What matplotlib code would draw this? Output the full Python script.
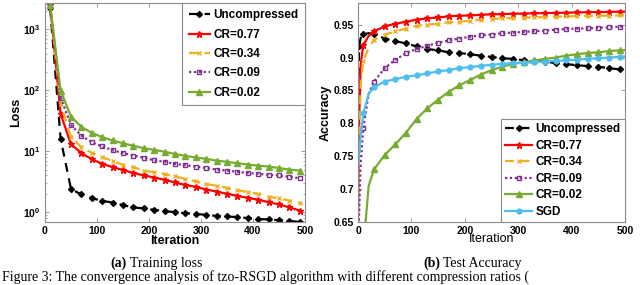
import numpy as np
import matplotlib
matplotlib.use("Agg")
import matplotlib.pyplot as plt
from matplotlib.ticker import LogLocator, FixedLocator, NullFormatter

plt.rcParams['font.family'] = ['Liberation Sans', 'DejaVu Sans']
plt.rcParams['mathtext.fontset'] = 'custom'
plt.rcParams['mathtext.rm'] = 'Liberation Sans:bold'
plt.rcParams['mathtext.bf'] = 'Liberation Sans:bold'

# ---------------- data: training loss ----------------
loss_iters = [10, 30, 50, 70, 90, 110, 130, 150, 170, 190, 210, 230, 250, 270, 290,
              310, 330, 350, 370, 390, 410, 430, 450, 470, 490]
loss_uncompressed = [2200, 16, 2.4, 1.95, 1.7, 1.53, 1.44, 1.3, 1.2, 1.15, 1.09, 1.04, 1.0,
                     0.96, 0.94, 0.9, 0.87, 0.85, 0.83, 0.8, 0.77, 0.76, 0.74, 0.72, 0.69]
loss_cr077 = [2500, 41, 13, 9.3, 7.4, 6.2, 5.5, 4.9, 4.4, 4.0, 3.7, 3.4, 3.07, 2.8, 2.6,
              2.35, 2.18, 2.0, 1.85, 1.72, 1.6, 1.46, 1.34, 1.2, 1.06]
loss_cr034 = [2500, 60, 17.4, 11.6, 9.4, 8.0, 6.9, 6.0, 5.5, 4.8, 4.5, 4.2, 3.85, 3.5, 3.2,
              2.9, 2.7, 2.5, 2.3, 2.13, 2.0, 1.8, 1.68, 1.55, 1.44]
loss_cr009 = [2500, 76, 27, 18, 14, 12, 10.4, 9.3, 8.5, 7.8, 7.1, 6.7, 6.2, 5.9, 5.6,
              5.3, 5.0, 4.8, 4.6, 4.4, 4.25, 4.1, 4.0, 3.8, 3.6]
loss_cr002 = [2500, 98, 37, 25, 20, 17, 15, 13.5, 12.3, 11.2, 10.5, 9.8, 9.0, 8.4, 7.9,
              7.5, 7.0, 6.7, 6.35, 6.05, 5.8, 5.6, 5.3, 5.0, 4.8]

# ---------------- data: test accuracy ----------------
acc_iters = [0, 2, 5, 10, 20, 30, 50, 70, 90, 110, 130, 150, 170, 190, 210, 230, 250,
             270, 290, 310, 330, 350, 370, 390, 410, 430, 450, 470, 490, 500]
acc_uncompressed = [0.80, 0.917, 0.930, 0.936, 0.937, 0.936, 0.929, 0.925, 0.9215, 0.917,
                    0.913, 0.911, 0.908, 0.907, 0.905, 0.903, 0.901, 0.899, 0.898, 0.896,
                    0.895, 0.894, 0.8915, 0.890, 0.8885, 0.887, 0.886, 0.884, 0.882, 0.881]
acc_cr077 = [0.64, 0.80, 0.89, 0.919, 0.933, 0.940, 0.9475, 0.9515, 0.9546, 0.9576, 0.9597,
             0.961, 0.9627, 0.9637, 0.964, 0.965, 0.9658, 0.966, 0.9668, 0.967, 0.9673,
             0.9677, 0.968, 0.9683, 0.9686, 0.969, 0.9692, 0.9695, 0.9698, 0.970]
acc_cr034 = [0.64, 0.76, 0.86, 0.895, 0.915, 0.927, 0.935, 0.940, 0.944, 0.9485, 0.950,
             0.9515, 0.9536, 0.9546, 0.956, 0.9576, 0.9586, 0.9597, 0.960, 0.9607, 0.9612,
             0.9617, 0.962, 0.9625, 0.963, 0.9633, 0.9636, 0.9638, 0.964, 0.9642]
acc_cr009 = [0.60, 0.66, 0.74, 0.793, 0.845, 0.8636, 0.884, 0.8966, 0.907, 0.913, 0.918,
             0.9225, 0.926, 0.929, 0.9317, 0.934, 0.935, 0.937, 0.938, 0.939, 0.940,
             0.941, 0.9424, 0.9434, 0.944, 0.9444, 0.9454, 0.946, 0.947, 0.9472]
acc_cr002 = [0.30, 0.45, 0.55, 0.61, 0.705, 0.730, 0.752, 0.768, 0.786, 0.807, 0.823,
             0.836, 0.848, 0.858, 0.866, 0.874, 0.881, 0.886, 0.8905, 0.893, 0.8956,
             0.898, 0.900, 0.903, 0.905, 0.907, 0.908, 0.910, 0.911, 0.9115]
acc_sgd = [0.73, 0.75, 0.78, 0.815, 0.845, 0.855, 0.8636, 0.867, 0.871, 0.873, 0.876,
           0.879, 0.881, 0.884, 0.8855, 0.8875, 0.889, 0.8905, 0.8915, 0.892, 0.893,
           0.894, 0.895, 0.896, 0.897, 0.898, 0.899, 0.900, 0.9012, 0.9017]

marker_iters = list(range(10, 500, 20))

names = ['Uncompressed', 'CR=0.77', 'CR=0.34', 'CR=0.09', 'CR=0.02', 'SGD']
colors = ['#000000', '#ff0000', '#edb120', '#7e2f8e', '#77ac30', '#4dbeee']
styles = [(0, (4, 3)), '-', (0, (4, 3)), (0, (1, 1.2)), '-', '-']
markers = ['D', '*', 'x', 's', '^', 'o']
msizes = [3.0, 4.5, 3.5, 3.5, 4.0, 3.5]
mfcs = ['#000000', '#ff0000', '#edb120', 'none', '#77ac30', '#4dbeee']

fig = plt.figure(figsize=(6.4, 2.85), dpi=100)
W, H = 640, 285

def add_ax(l, r, t, b):
    return fig.add_axes([l / W, (H - b) / H, (r - l) / W, (b - t) / H])

edge = '#8c8c8c'

def style_ax(ax):
    for s in ax.spines.values():
        s.set_color(edge)
        s.set_linewidth(0.8)
    ax.tick_params(direction='in', top=True, right=True, color=edge, labelsize=7.5,
                   length=3, width=0.6, pad=3)
    ax.tick_params(which='minor', direction='in', top=True, right=True, color=edge,
                   length=1.5, width=0.5)
    for lab in ax.get_xticklabels() + ax.get_yticklabels():
        lab.set_fontweight('bold')

leg_kw = dict(prop={'weight': 'bold', 'size': 8.5}, frameon=True, fancybox=False,
              edgecolor=edge, framealpha=1, handletextpad=0.3, borderaxespad=0.0)

# ---- left: training loss ----
ax1 = add_ax(45, 305, 3, 222)
loss_series = [loss_uncompressed, loss_cr077, loss_cr034, loss_cr009, loss_cr002]
for i, ys in enumerate(loss_series):
    ax1.plot(loss_iters, ys, color=colors[i], linestyle=styles[i], linewidth=1.6,
             marker=markers[i], markersize=msizes[i], markerfacecolor=mfcs[i],
             markeredgecolor=colors[i], markeredgewidth=1.0, label=names[i])
ax1.set_yscale('log')
ax1.set_xlim(0, 500)
ax1.set_ylim(0.69, 2700)
ax1.set_xticks([0, 100, 200, 300, 400, 500])
ax1.yaxis.set_major_locator(FixedLocator([1, 10, 100, 1000]))
ax1.set_yticklabels([r'$10^0$', r'$10^1$', r'$10^2$', r'$10^3$'])
ax1.yaxis.set_minor_locator(LogLocator(base=10, subs=np.arange(2, 10)))
ax1.yaxis.set_minor_formatter(NullFormatter())
style_ax(ax1)
ax1.set_xlabel('Iteration', fontsize=9, fontweight='bold', labelpad=-1)
ax1.set_ylabel('Loss', fontsize=9, fontweight='bold', labelpad=1)
leg1 = ax1.legend(loc='upper right', borderpad=0.55, labelspacing=0.62, handlelength=1.8,
                  **leg_kw)
leg1.get_frame().set_linewidth(0.8)

# ---- right: test accuracy ----
ax2 = add_ax(358, 625, 3, 222)
acc_series = [acc_uncompressed, acc_cr077, acc_cr034, acc_cr009, acc_cr002, acc_sgd]
for i, ys in enumerate(acc_series):
    mk = [j for j, it in enumerate(acc_iters) if it in marker_iters]
    if i == 0:
        mk = [1] + mk
    ax2.plot(acc_iters, ys, color=colors[i], linestyle=styles[i], linewidth=1.6,
             marker=markers[i], markersize=msizes[i], markerfacecolor=mfcs[i],
             markeredgecolor=colors[i], markeredgewidth=1.0, markevery=mk, label=names[i])
ax2.set_xlim(0, 500)
ax2.set_ylim(0.65, 0.983)
ax2.set_xticks([0, 100, 200, 300, 400, 500])
ax2.set_yticks([0.65, 0.7, 0.75, 0.8, 0.85, 0.9, 0.95])
ax2.set_yticklabels(['0.65', '0.7', '0.75', '0.8', '0.85', '0.9', '0.95'])
style_ax(ax2)
ax2.set_xlabel('Iteration', fontsize=9, labelpad=-2)
ax2.set_ylabel('Accuracy', fontsize=9, fontweight='bold', labelpad=1)
leg2 = ax2.legend(loc='lower right', borderpad=0.35, labelspacing=0.38, handlelength=2.3,
                  **leg_kw)
leg2.get_frame().set_linewidth(0.8)

# ---- captions ----
cap_font = ['Liberation Serif', 'DejaVu Serif']
fig.text(110 / W, 1 - 263 / H, '(a)', fontsize=10, fontweight='bold', family=cap_font,
         ha='left', va='center')
fig.text(130 / W, 1 - 263 / H, 'Training loss', fontsize=10, family=cap_font,
         ha='left', va='center')
fig.text(423 / W, 1 - 263 / H, '(b)', fontsize=10, fontweight='bold', family=cap_font,
         ha='left', va='center')
fig.text(443 / W, 1 - 263 / H, 'Test Accuracy', fontsize=10, family=cap_font,
         ha='left', va='center')
fig.text(2 / W, 1 / H,
         'Figure 3: The convergence analysis of tzo-RSGD algorithm with different compression ratios (',
         fontsize=10, family=cap_font, ha='left', va='bottom')

fig.savefig('out.png', dpi=100)
